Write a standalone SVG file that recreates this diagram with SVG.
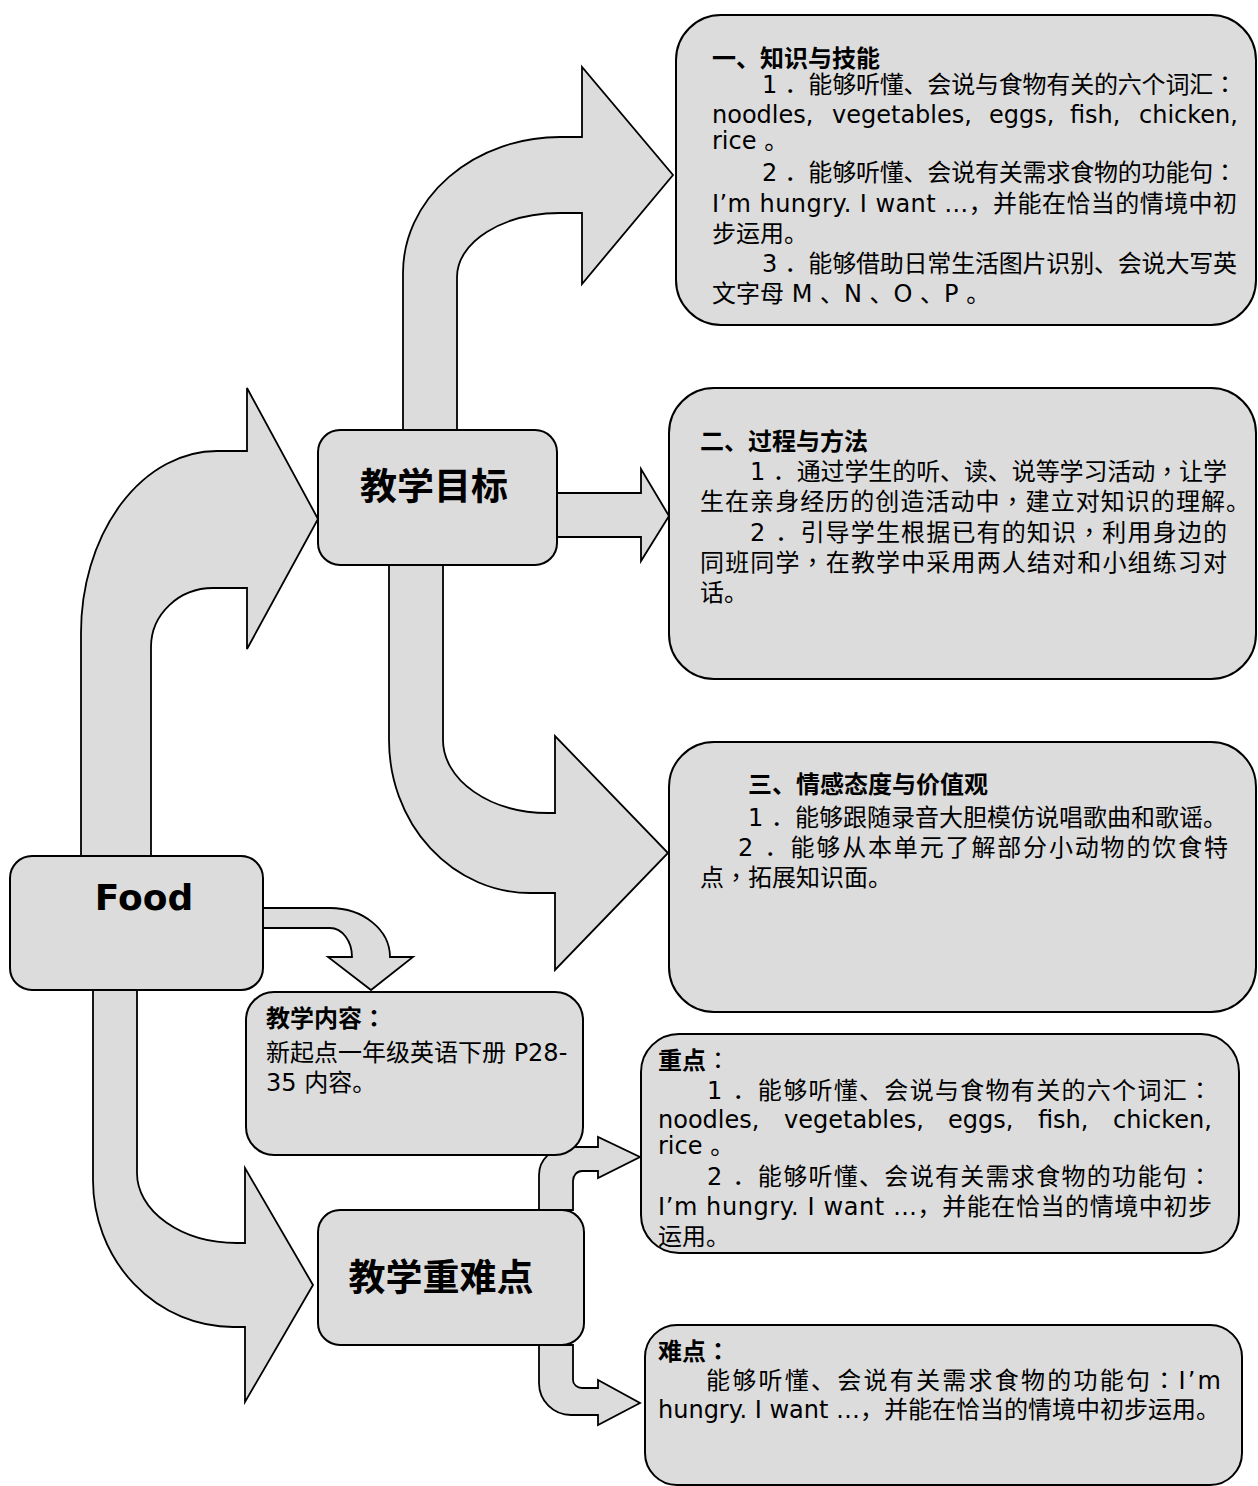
<svg xmlns="http://www.w3.org/2000/svg" width="1258" height="1486" viewBox="0 0 1258 1486">
<style>
.box{fill:#dcdcdc;stroke:#000;stroke-width:2}
.arr{fill:#dcdcdc;stroke:#000;stroke-width:1.8;stroke-linejoin:miter}
.t{font-family:"DejaVu Sans","Noto Sans CJK SC",sans-serif;font-size:24px;fill:#000}
.b{font-weight:bold}
.p{font-family:"Noto Sans CJK TC",sans-serif}
.food{font-family:"DejaVu Sans",sans-serif;font-size:36px;font-weight:bold;fill:#000;text-anchor:middle}
.big{font-family:"DejaVu Sans","Noto Sans CJK SC",sans-serif;font-size:37px;font-weight:bold;fill:#000;text-anchor:middle}
</style>
<rect width="1258" height="1486" fill="#fff"/>
<g id="connectors">
<path class="arr" d="M81,856 L81,633 A136,182 0 0 1 217,451 L247,451 L247,388 L318,519 L247,649 L247,588 L213,588 A62,59 0 0 0 151,647 L151,856 Z"/>
<path class="arr" d="M403,430 L403,273 A157,136 0 0 1 560,137 L582,137 L582,67 L673,175 L582,284 L582,213 L560,213 A103,64 0 0 0 457,277 L457,430 Z"/>
<path class="arr" d="M557,493 L641,493 L641,469 L669,516 L641,561 L641,537 L557,537 Z"/>
<path class="arr" d="M389,565 L389,740 A141,153 0 0 0 530,893 L555,893 L555,970 L668,853 L555,736 L555,813 L548,813 A105,73 0 0 1 443,740 L443,565 Z"/>
<path class="arr" d="M263,908 L330,908 A60,49 0 0 1 390,957 L413,957 L371,990 L328,957 L352,957 A22,29 0 0 0 330,928 L263,928 Z"/>
<path class="arr" d="M93,990 L93,1180 A140,147 0 0 0 233,1327 L245,1327 L245,1402 L313,1285 L245,1168 L245,1243 L237,1243 A100,70 0 0 1 137,1173 L137,990 Z"/>
<path class="arr" d="M539,1210 L539,1175 A30,28 0 0 1 569,1147 L598,1147 L598,1137 L640,1157 L598,1178 L598,1171 L582,1171 A9,10 0 0 0 573,1181 L573,1210 Z"/>
<path class="arr" d="M539,1345 L539,1383 A32,32 0 0 0 571,1415 L598,1415 L598,1425 L640,1403 L598,1380 L598,1388 L582,1388 A9,8 0 0 1 573,1380 L573,1345 Z"/>
</g>
<g id="food">
<rect class="box" x="10" y="856" width="253" height="134" rx="22"/>
<text class="food" x="144" y="910">Food</text>
</g>
<g id="goal">
<rect class="box" x="318" y="430" width="239" height="135" rx="22"/>
<text class="big" x="434" y="500">教学目标</text>
</g>
<g id="keypoints">
<rect class="box" x="318" y="1210" width="266" height="135" rx="22"/>
<text class="big" x="441" y="1291">教学重难点</text>
</g>
<g id="content">
<rect class="box" x="246" y="992" width="337" height="163" rx="28"/>
<text class="t b" x="266" y="1027">教学内容<tspan class="p">：</tspan></text>
<text class="t" x="266" y="1061">新起点一年级英语下册 P28-</text>
<text class="t" x="266" y="1091">35 内容。</text>
</g>
<g id="goal1">
<rect class="box" x="676" y="15" width="580" height="310" rx="45"/>
<text class="t b" x="712" y="67">一、知识与技能</text>
<text class="t" x="762" y="93" textLength="475" lengthAdjust="spacing">1 ．能够听懂、会说与食物有关的六个词汇<tspan class="p">：</tspan></text>
<text class="t" y="123"><tspan x="712">noodles,</tspan><tspan x="832">vegetables,</tspan><tspan x="989">eggs,</tspan><tspan x="1070">fish,</tspan><tspan x="1139">chicken,</tspan></text>
<text class="t" x="712" y="149">rice 。</text>
<text class="t" x="762" y="181" textLength="475" lengthAdjust="spacing">2 ．能够听懂、会说有关需求食物的功能句<tspan class="p">：</tspan></text>
<text class="t" x="712" y="212" textLength="525" lengthAdjust="spacing">I’m hungry. I want …，并能在恰当的情境中初</text>
<text class="t" x="712" y="242">步运用。</text>
<text class="t" x="762" y="272" textLength="475" lengthAdjust="spacing">3 ．能够借助日常生活图片识别、会说大写英</text>
<text class="t" x="712" y="302">文字母 M 、N 、O 、P 。</text>
</g>
<g id="goal2">
<rect class="box" x="669" y="388" width="587" height="291" rx="45"/>
<text class="t b" x="700" y="450">二、过程与方法</text>
<text class="t" x="750" y="480" textLength="477" lengthAdjust="spacing">1 ．通过学生的听、读、说等学习活动<tspan class="p">，</tspan>让学</text>
<text class="t" x="700" y="510" textLength="550" lengthAdjust="spacing">生在亲身经历的创造活动中<tspan class="p">，</tspan>建立对知识的理解。</text>
<text class="t" x="750" y="541" textLength="477" lengthAdjust="spacing">2 ．引导学生根据已有的知识<tspan class="p">，</tspan>利用身边的</text>
<text class="t" x="700" y="571" textLength="527" lengthAdjust="spacing">同班同学<tspan class="p">，</tspan>在教学中采用两人结对和小组练习对</text>
<text class="t" x="700" y="601">话。</text>
</g>
<g id="goal3">
<rect class="box" x="669" y="742" width="587" height="270" rx="45"/>
<text class="t b" x="748" y="793">三、情感态度与价值观</text>
<text class="t" x="748" y="826">1 ．能够跟随录音大胆模仿说唱歌曲和歌谣。</text>
<text class="t" x="738" y="856" textLength="490" lengthAdjust="spacing">2 ．能够从本单元了解部分小动物的饮食特</text>
<text class="t" x="700" y="886">点<tspan class="p">，</tspan>拓展知识面。</text>
</g>
<g id="key">
<rect class="box" x="641" y="1034" width="598" height="219" rx="38"/>
<text class="t" x="658" y="1069"><tspan class="b">重点</tspan><tspan class="p">：</tspan></text>
<text class="t" x="707" y="1099" textLength="505" lengthAdjust="spacing">1 ．能够听懂、会说与食物有关的六个词汇<tspan class="p">：</tspan></text>
<text class="t" y="1128"><tspan x="658">noodles,</tspan><tspan x="784">vegetables,</tspan><tspan x="948">eggs,</tspan><tspan x="1038">fish,</tspan><tspan x="1113">chicken,</tspan></text>
<text class="t" x="658" y="1154">rice 。</text>
<text class="t" x="707" y="1185" textLength="505" lengthAdjust="spacing">2 ．能够听懂、会说有关需求食物的功能句<tspan class="p">：</tspan></text>
<text class="t" x="658" y="1215" textLength="554" lengthAdjust="spacing">I’m hungry. I want …，并能在恰当的情境中初步</text>
<text class="t" x="658" y="1245">运用。</text>
</g>
<g id="difficult">
<rect class="box" x="645" y="1325" width="597" height="160" rx="32"/>
<text class="t b" x="658" y="1360">难点<tspan class="p">：</tspan></text>
<text class="t" x="706" y="1389" textLength="515" lengthAdjust="spacing">能够听懂、会说有关需求食物的功能句<tspan class="p">：</tspan>I’m</text>
<text class="t" x="658" y="1418">hungry. I want …，并能在恰当的情境中初步运用。</text>
</g>
</svg>
